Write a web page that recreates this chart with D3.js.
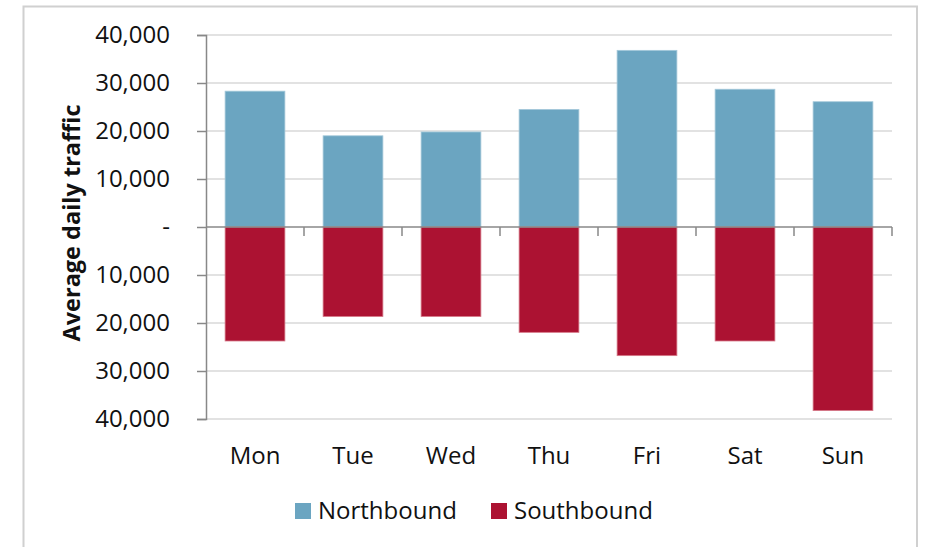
<!DOCTYPE html>
<html>
<head>
<meta charset="utf-8">
<script src="https://cdn.jsdelivr.net/npm/d3@7"></script>
<style>
  html, body { margin: 0; padding: 0; background: #fff; }
  svg { display: block; font-family: "Open Sans", sans-serif; }
</style>
</head>
<body>
<svg id="chart" width="925" height="547"></svg>
<script>
const days = ["Mon", "Tue", "Wed", "Thu", "Fri", "Sat", "Sun"];
const northbound = [28300, 19000, 19800, 24500, 36800, 28700, 26100];
const southbound = [23750, 18650, 18650, 21950, 26800, 23750, 38250];
const yTicks = [40000, 30000, 20000, 10000, 0, -10000, -20000, -30000, -40000];
const seriesNames = ["Northbound", "Southbound"];
const seriesColors = ["#6ba5c1", "#ac1232"];

const svg = d3.select("#chart");
const plot = { left: 206, right: 892, top: 35, bottom: 419 };

// outer border
svg.append("rect")
  .attr("x", 23.5).attr("y", 6.5)
  .attr("width", 917 - 23.5).attr("height", 560)
  .attr("fill", "#fff").attr("stroke", "#d0d0d0").attr("stroke-width", 2);

const x = d3.scaleBand().domain(days).range([plot.left, plot.right]).paddingInner(0.39).paddingOuter(0.195);
const xb = d3.scaleBand().domain(days).range([plot.left, plot.right]).padding(0);
const y = d3.scaleLinear().domain([-40000, 40000]).range([plot.bottom, plot.top]);

// gridlines
svg.append("g").selectAll("line")
  .data(yTicks.filter(d => d !== 0))
  .join("line")
  .attr("x1", plot.left).attr("x2", plot.right)
  .attr("y1", d => y(d)).attr("y2", d => y(d))
  .attr("stroke", "#d9d9d9").attr("stroke-width", 1.5);

// bars
svg.append("g").selectAll("rect")
  .data(days)
  .join("rect")
  .attr("x", d => x(d)).attr("width", x.bandwidth())
  .attr("y", (d, i) => y(northbound[i]))
  .attr("height", (d, i) => y(0) - y(northbound[i]))
  .attr("fill", seriesColors[0])
  .attr("stroke", "#a5c9da").attr("stroke-width", 0.8);

svg.append("g").selectAll("rect")
  .data(days)
  .join("rect")
  .attr("x", d => x(d)).attr("width", x.bandwidth())
  .attr("y", y(0))
  .attr("height", (d, i) => y(-southbound[i]) - y(0))
  .attr("fill", seriesColors[1])
  .attr("stroke", "#d67a89").attr("stroke-width", 0.8);

// y axis
const yAxis = d3.axisLeft(y)
  .tickValues(yTicks)
  .tickSize(9)
  .tickPadding(27)
  .tickFormat(d => d === 0 ? "-" : d3.format(",")(Math.abs(d)));
const gy = svg.append("g").attr("transform", `translate(${plot.left},0)`).call(yAxis);
gy.select(".domain").attr("stroke", "#888").attr("stroke-width", 1.5);
gy.selectAll(".tick line").attr("stroke", "#888").attr("stroke-width", 1.5);
gy.selectAll(".tick text").attr("fill", "#111").style("font-size", "24px")
  .style("font-family", "'Open Sans', sans-serif");

// zero line with category ticks
const zeroY = y(0);
svg.append("line")
  .attr("x1", plot.left).attr("x2", plot.right)
  .attr("y1", zeroY).attr("y2", zeroY)
  .attr("stroke", "#888").attr("stroke-width", 1.5);
svg.append("g").selectAll("line")
  .data(days.slice(1).concat(["__end"]))
  .join("line")
  .attr("x1", (d, i) => i < days.length - 1 ? xb(d) : plot.right)
  .attr("x2", (d, i) => i < days.length - 1 ? xb(d) : plot.right)
  .attr("y1", zeroY).attr("y2", zeroY + 9)
  .attr("stroke", "#888").attr("stroke-width", 1.5);

// x labels
svg.append("g").selectAll("text")
  .data(days)
  .join("text")
  .attr("x", d => xb(d) + xb.bandwidth() / 2)
  .attr("y", 464)
  .attr("text-anchor", "middle")
  .attr("fill", "#111")
  .style("font-size", "24px")
  .text(d => d);

// y title
svg.append("text")
  .attr("transform", `translate(80,223) rotate(-90)`)
  .attr("text-anchor", "middle")
  .attr("fill", "#111")
  .style("font-size", "23.5px")
  .style("font-weight", "bold")
  .text("Average daily traffic");

// legend
const legendX = [295, 491];
const lg = svg.append("g").selectAll("g")
  .data(seriesNames)
  .join("g")
  .attr("transform", (d, i) => `translate(${legendX[i]},503)`);
lg.append("rect").attr("width", 16).attr("height", 16).attr("fill", (d, i) => seriesColors[i]);
lg.append("text")
  .attr("x", 23).attr("y", 16)
  .attr("fill", "#111")
  .style("font-size", "24px")
  .text(d => d);
</script>
</body>
</html>
